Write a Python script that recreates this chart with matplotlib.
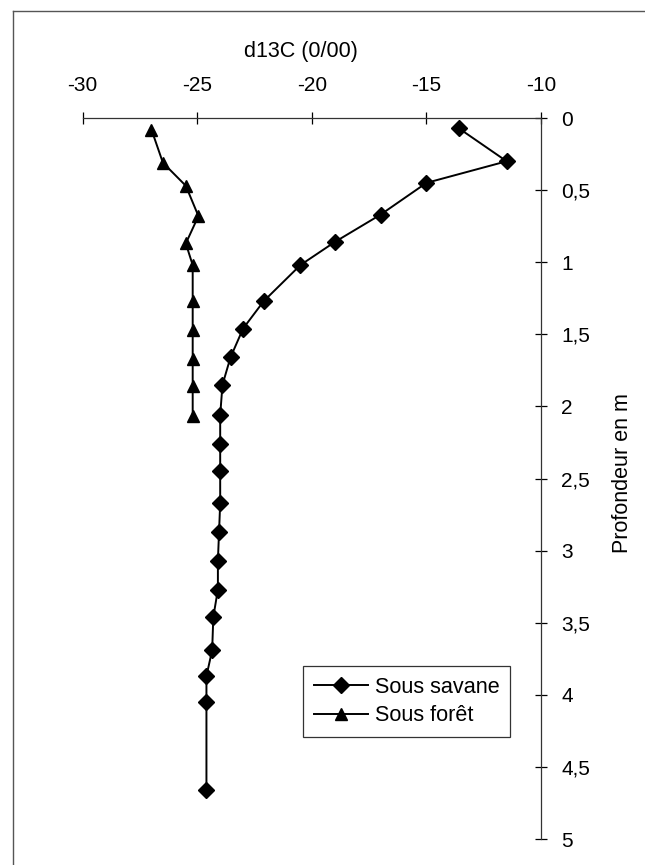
import matplotlib
matplotlib.use("Agg")
import matplotlib.pyplot as plt
from matplotlib.lines import Line2D

plt.rcParams['font.family'] = ['Liberation Sans', 'DejaVu Sans']

# profondeur (m) et d13C (0/00)
prof_savane = [0.07, 0.30, 0.45, 0.67, 0.86, 1.02, 1.27, 1.46, 1.66, 1.85, 2.06,
               2.26, 2.45, 2.67, 2.87, 3.07, 3.27, 3.46, 3.69, 3.87, 4.05, 4.66]
d13c_savane = [-13.6, -11.5, -15.0, -17.0, -19.0, -20.5, -22.1, -23.0, -23.55, -23.9, -24.0,
               -24.0, -24.0, -24.0, -24.05, -24.1, -24.1, -24.3, -24.35, -24.6, -24.6, -24.6]

prof_foret = [0.08, 0.31, 0.47, 0.68, 0.87, 1.02, 1.27, 1.47, 1.67, 1.86, 2.07]
d13c_foret = [-27.0, -26.5, -25.5, -24.95, -25.5, -25.2, -25.2, -25.2, -25.2, -25.2, -25.2]

xticks = [-30, -25, -20, -15, -10]
yticks = [0, 0.5, 1, 1.5, 2, 2.5, 3, 3.5, 4, 4.5, 5]
ylabels = [str(v).replace('.', ',') for v in yticks]

fig = plt.figure(figsize=(6.45, 8.65), dpi=100)
ax = fig.add_axes([82.7 / 645, 1 - 839 / 865, (541 - 82.7) / 645, (839 - 118) / 865])

ax.plot(d13c_savane, prof_savane, color='black', lw=1.4, marker='D', markersize=8,
        label='Sous savane')
ax.plot(d13c_foret, prof_foret, color='black', lw=1.4, marker='^', markersize=9,
        label='Sous forêt')

ax.set_xlim(-30, -10)
ax.set_ylim(5, 0)

for s in ['left', 'bottom']:
    ax.spines[s].set_visible(False)
for s in ['top', 'right']:
    ax.spines[s].set_linewidth(0.9)
    ax.spines[s].set_color('#333333')

ax.xaxis.tick_top()
ax.xaxis.set_label_position('top')
ax.yaxis.tick_right()
ax.yaxis.set_label_position('right')
ax.set_xticks(xticks)
ax.set_xticklabels([str(v) for v in xticks])
ax.set_yticks(yticks)
ax.set_yticklabels(ylabels)
ax.tick_params(axis='x', direction='inout', length=9, width=0.9, pad=12, labelsize=15)
ax.tick_params(axis='y', direction='inout', length=9, width=0.9, pad=10, labelsize=15)

ax.set_xlabel('d13C (0/00)', fontsize=15.5)
ax.xaxis.set_label_coords(0.477, 1.084)
ax.set_ylabel('Profondeur en m', fontsize=15.5)
ax.yaxis.set_label_coords(1.155, 0.507)

leg = ax.legend(loc='lower left', bbox_to_anchor=(0.481, 0.1415), borderaxespad=0,
                fontsize=15.6, fancybox=False, frameon=True, handlelength=2.5,
                handletextpad=0.3, borderpad=0.5, labelspacing=0.34)
leg.get_frame().set_edgecolor('black')
leg.get_frame().set_linewidth(0.9)

# cadre de la figure (bord gauche et haut)
fig.add_artist(Line2D([13 / 645, 13 / 645], [0, 1 - 11 / 865], color='#555555', lw=1))
fig.add_artist(Line2D([13 / 645, 1], [1 - 11 / 865, 1 - 11 / 865], color='#555555', lw=1))

fig.savefig('out.png', dpi=100)
